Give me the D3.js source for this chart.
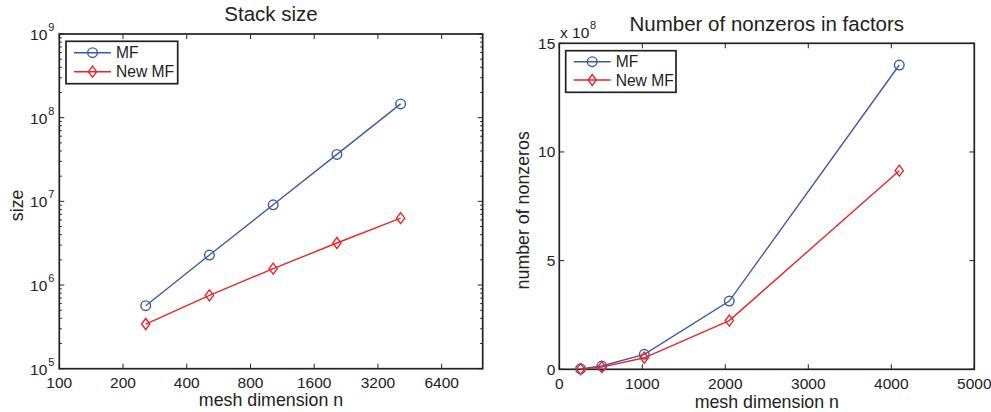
<!DOCTYPE html>
<html><head><meta charset="utf-8">
<script src="https://cdn.jsdelivr.net/npm/d3@7"></script>
<style>
body{margin:0;background:#fff;}
svg text{font-family:"Liberation Sans",Arial,sans-serif;fill:#222;}
</style></head>
<body><svg id="c" width="991" height="412"></svg>
<script>
const meshN = [256, 512, 1024, 2048, 4096];
const stackMF = [5.66e5, 2.28e6, 9.1e6, 3.64e7, 1.46e8];
const stackNewMF = [3.42e5, 7.53e5, 1.57e6, 3.18e6, 6.3e6];
const nnzMF = [0.02e8, 0.15e8, 0.69e8, 3.14e8, 14.0e8];
const nnzNewMF = [0.01e8, 0.1e8, 0.53e8, 2.24e8, 9.14e8];
const leftXTicks = [100, 200, 400, 800, 1600, 3200, 6400];
const leftYTicks = [1e5, 1e6, 1e7, 1e8, 1e9];
const rightXTicks = [0, 1000, 2000, 3000, 4000, 5000];
const rightYTicks = [0, 5, 10, 15];
const seriesNames = ["MF", "New MF"];
const titles = ["Stack size", "Number of nonzeros in factors"];

const BLUE = "#3d5aa8", RED = "#e8262a";
const TICK_FS = 15.5, LABEL_FS = 17.8, TITLE_FS = 20.5, LEG_FS = 15.6, SUP_FS = 11;
const svg = d3.select("#c");

function marker(g, type, x, y, color) {
  if (type === "o") {
    g.append("circle").attr("cx", x).attr("cy", y).attr("r", 4.8)
      .attr("fill", "none").attr("stroke", color).attr("stroke-width", 1.4);
  } else {
    const s = 5.5;
    g.append("path").attr("d", `M${x},${y - s}L${x + s * 0.75},${y}L${x},${y + s}L${x - s * 0.75},${y}Z`)
      .attr("fill", "none").attr("stroke", color).attr("stroke-width", 1.4);
  }
}

function panel(opt) {
  const { x0, x1, y0, y1, xs, ys, xTicks, yTicks, yFmt, series, title, titleY, xlabel, xlabelY, xtickY, ylabel, ylabelX, legend } = opt;
  const g = svg.append("g");
  g.append("rect").attr("x", x0).attr("y", y0).attr("width", x1 - x0).attr("height", y1 - y0)
    .attr("fill", "none").attr("stroke", "#222").attr("stroke-width", 1.7);
  const tl = 5;
  xTicks.forEach(t => {
    const x = xs(t);
    g.append("line").attr("x1", x).attr("x2", x).attr("y1", y1).attr("y2", y1 - tl).attr("stroke", "#222");
    g.append("line").attr("x1", x).attr("x2", x).attr("y1", y0).attr("y2", y0 + tl).attr("stroke", "#222");
    g.append("text").attr("x", x).attr("y", xtickY).attr("text-anchor", "middle")
      .attr("font-size", TICK_FS).text(t);
  });
  yTicks.forEach(t => {
    const y = ys(yFmt.val(t));
    g.append("line").attr("x1", x0).attr("x2", x0 + tl).attr("y1", y).attr("y2", y).attr("stroke", "#222");
    g.append("line").attr("x1", x1).attr("x2", x1 - tl).attr("y1", y).attr("y2", y).attr("stroke", "#222");
    yFmt.label(g, t, x0, y);
  });
  if (opt.minor) {
    opt.minor.forEach(v => {
      const y = ys(v);
      g.append("line").attr("x1", x0).attr("x2", x0 + 2.5).attr("y1", y).attr("y2", y).attr("stroke", "#222");
      g.append("line").attr("x1", x1).attr("x2", x1 - 2.5).attr("y1", y).attr("y2", y).attr("stroke", "#222");
    });
  }
  series.forEach(s => {
    const pts = meshN.map((n, i) => [xs(n), ys(s.vals[i])]);
    g.append("path").attr("d", d3.line()(pts)).attr("fill", "none")
      .attr("stroke", s.color).attr("stroke-width", 1.4);
    pts.forEach(p => marker(g, s.m, p[0], p[1], s.color));
  });
  g.append("text").attr("x", (x0 + x1) / 2).attr("y", titleY).attr("text-anchor", "middle")
    .attr("font-size", TITLE_FS).text(title);
  g.append("text").attr("x", (x0 + x1) / 2).attr("y", xlabelY).attr("text-anchor", "middle")
    .attr("font-size", LABEL_FS).text(xlabel);
  g.append("text").attr("transform", `translate(${ylabelX},${(y0 + y1) / 2 + 4}) rotate(-90)`)
    .attr("text-anchor", "middle").attr("font-size", LABEL_FS).text(ylabel);
  const L = legend;
  g.append("rect").attr("x", L.x).attr("y", L.y).attr("width", L.w).attr("height", L.h)
    .attr("fill", "#fff").attr("stroke", "#222").attr("stroke-width", 1.7);
  series.forEach((s, i) => {
    const ry = L.y + L.r0 + i * L.dr;
    g.append("line").attr("x1", L.x + 8).attr("x2", L.x + 45).attr("y1", ry).attr("y2", ry)
      .attr("stroke", s.color).attr("stroke-width", 1.4);
    marker(g, s.m, L.x + 26.5, ry, s.color);
    g.append("text").attr("x", L.x + 50).attr("y", ry + 5.5).attr("font-size", LEG_FS).text(seriesNames[i]);
  });
}

// Left panel
const lx = d3.scaleLog().domain([100, 10000]).range([59.3, 482.7]);
const ly = d3.scaleLog().domain([1e5, 1e9]).range([368.7, 34]);
const minorL = [];
for (let e = 5; e < 9; e++) for (let k = 2; k <= 9; k++) minorL.push(k * Math.pow(10, e));
panel({
  x0: 59.3, x1: 482.7, y0: 34, y1: 368.7, xs: lx, ys: ly,
  xTicks: leftXTicks, yTicks: leftYTicks, minor: minorL,
  yFmt: {
    val: t => t,
    label: (g, t, x, y) => {
      const e = Math.round(Math.log10(t));
      g.append("text").attr("x", x - 12).attr("y", y + 6).attr("text-anchor", "end").attr("font-size", TICK_FS).text("10");
      g.append("text").attr("x", x - 11).attr("y", y - 3).attr("font-size", SUP_FS).text(e);
    }
  },
  series: [{ vals: stackMF, color: BLUE, m: "o" }, { vals: stackNewMF, color: RED, m: "d" }],
  title: titles[0], titleY: 21, xlabel: "mesh dimension n", xlabelY: 406, xtickY: 387.5,
  ylabel: "size", ylabelX: 23,
  legend: { x: 66, y: 41.3, w: 111.7, h: 42.4, r0: 11.4, dr: 19 }
});

// Right panel
const rx = d3.scaleLinear().domain([0, 5000]).range([559.3, 974.3]);
const ry = d3.scaleLinear().domain([0, 15e8]).range([369.3, 43.3]);
panel({
  x0: 559.3, x1: 974.3, y0: 43.3, y1: 369.3, xs: rx, ys: ry,
  xTicks: rightXTicks, yTicks: rightYTicks,
  yFmt: {
    val: t => t * 1e8,
    label: (g, t, x, y) => {
      g.append("text").attr("x", x - 4).attr("y", y + 5.5).attr("text-anchor", "end").attr("font-size", TICK_FS).text(t);
    }
  },
  series: [{ vals: nnzMF, color: BLUE, m: "o" }, { vals: nnzNewMF, color: RED, m: "d" }],
  title: titles[1], titleY: 31, xlabel: "mesh dimension n", xlabelY: 408, xtickY: 389,
  ylabel: "number of nonzeros", ylabelX: 529,
  legend: { x: 565.7, y: 50.7, w: 110.3, h: 41.6, r0: 11, dr: 18.3 }
});
svg.append("text").attr("x", 560).attr("y", 38).attr("font-size", TICK_FS).text("x 10");
svg.append("text").attr("x", 590).attr("y", 29).attr("font-size", SUP_FS).text("8");
</script></body></html>
